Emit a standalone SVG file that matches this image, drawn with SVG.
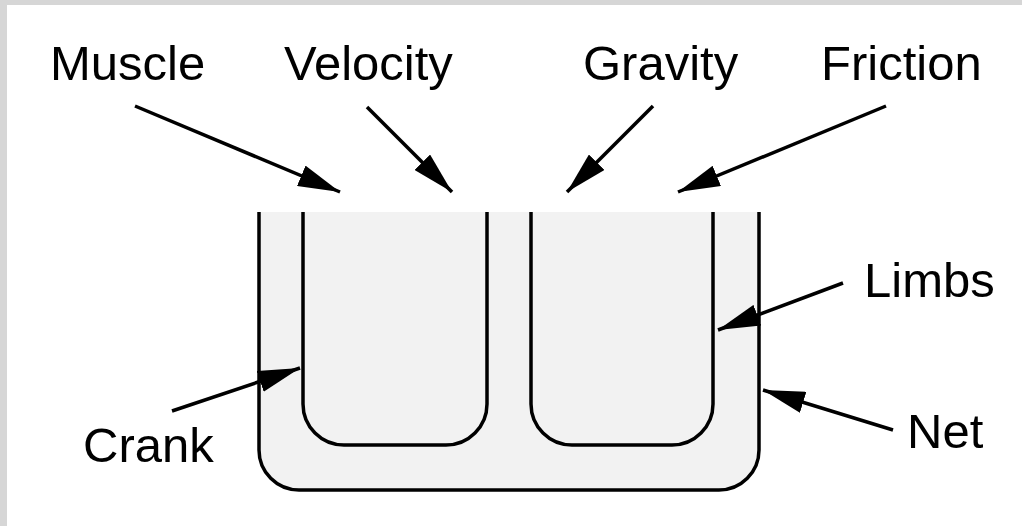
<svg xmlns="http://www.w3.org/2000/svg" width="1022" height="526" viewBox="0 0 1022 526">
<defs>
<marker id="ah" markerUnits="userSpaceOnUse" markerWidth="42" markerHeight="22" refX="42" refY="11" orient="auto" viewBox="0 0 42 22">
<path d="M0,0 L42,11 L0,22 z" fill="#000"/>
</marker>
</defs>
<style>
.lbl{font-family:"Liberation Sans",Arial,sans-serif;font-size:49px;fill:#000}
.shape{fill:#f2f2f2;stroke:#000;stroke-width:3.5}
.line{fill:none;stroke:#000;stroke-width:3.5}
.conn{stroke:#000;stroke-width:3.5;fill:none;marker-end:url(#ah)}
</style>
<rect x="0" y="0" width="1022" height="526" fill="#fff"/>
<rect x="0" y="0" width="1022" height="5" fill="#d6d6d6"/>
<rect x="0" y="0" width="7" height="526" fill="#d6d6d6"/>
<g id="net">
<path d="M259,212 L759,212 L759,450 A40,40 0 0 1 719,490 L299,490 A40,40 0 0 1 259,450 Z" fill="#f2f2f2" stroke="none"/>
<path class="line" d="M259,212 L259,450 A40,40 0 0 0 299,490 L719,490 A40,40 0 0 0 759,450 L759,212"/>
</g>
<g id="crank">
<path class="line" d="M303,212 L303,404 A41,41 0 0 0 344,445 L446,445 A41,41 0 0 0 487,404 L487,212"/>
</g>
<g id="limbs">
<path class="line" d="M531,212 L531,404 A41,41 0 0 0 572,445 L672,445 A41,41 0 0 0 713,404 L713,212"/>
</g>
<g id="labels">
<text class="lbl" x="50" y="80">Muscle</text>
<text class="lbl" x="284" y="80">Velocity</text>
<text class="lbl" x="583" y="80">Gravity</text>
<text class="lbl" x="821" y="80">Friction</text>
<text class="lbl" x="864" y="297">Limbs</text>
<text class="lbl" x="907" y="448">Net</text>
<text class="lbl" x="83" y="462">Crank</text>
</g>
<g id="connectors">
<line class="conn" x1="135" y1="106" x2="340" y2="192"/>
<line class="conn" x1="367" y1="107" x2="452" y2="192"/>
<line class="conn" x1="653" y1="106" x2="567" y2="192"/>
<line class="conn" x1="886" y1="106" x2="678" y2="192"/>
<line class="conn" x1="843" y1="283" x2="718" y2="330"/>
<line class="conn" x1="893" y1="430" x2="763" y2="390"/>
<line class="conn" x1="172" y1="411" x2="300" y2="368"/>
</g>
</svg>
